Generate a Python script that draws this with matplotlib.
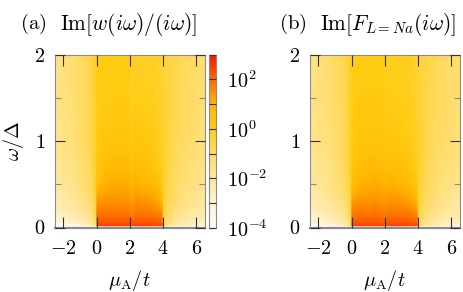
import numpy as np
import matplotlib
matplotlib.use("Agg")
import matplotlib.pyplot as plt
from matplotlib.colors import LinearSegmentedColormap, LogNorm

plt.rcParams['mathtext.fontset'] = 'cm'
plt.rcParams['font.family'] = 'serif'
plt.rcParams['font.serif'] = ['cmr10', 'DejaVu Serif']
plt.rcParams['axes.formatter.use_mathtext'] = True

mu = [-2.5, -2, -1.5, -1, -0.5, -0.2, -0.03, 0.03, 0.5, 1, 1.5, 1.97, 2.03, 2.4, 2.8, 3.2, 3.6, 3.95, 4.05, 4.5, 5, 5.5, 6, 6.5]
omega = [0.02, 0.06, 0.12, 0.2, 0.3, 0.4, 0.5, 0.65, 0.8, 1.0, 1.5, 2.0]

# log10 of the plotted quantity, rows follow omega, columns follow mu
log_a = [
    [-3.9, -3.7, -3.4, -3.1, -2.7, -2.1, -1.3, 2.5, 2.5, 2.5, 2.5, 2.5, 2.35, 2.5, 2.5, 2.5, 2.45, 2.4, -1.0, -2.0, -2.4, -2.7, -3.0, -3.2],
    [-3.3, -3.1, -2.8, -2.5, -2.1, -1.6, -0.9, 2.2, 2.25, 2.25, 2.25, 2.25, 2.05, 2.25, 2.25, 2.25, 2.2, 2.1, -0.9, -1.7, -2.0, -2.3, -2.5, -2.7],
    [-2.9, -2.7, -2.4, -2.1, -1.8, -1.3, -0.7, 1.95, 2.0, 2.0, 2.0, 2.0, 1.8, 2.0, 2.0, 1.95, 1.9, 1.8, -0.7, -1.4, -1.8, -2.0, -2.2, -2.4],
    [-2.6, -2.4, -2.2, -1.9, -1.6, -1.1, -0.5, 1.7, 1.75, 1.75, 1.75, 1.75, 1.55, 1.75, 1.7, 1.7, 1.6, 1.4, -0.6, -1.2, -1.6, -1.8, -2.0, -2.2],
    [-2.4, -2.2, -2.0, -1.7, -1.4, -0.9, -0.4, 1.4, 1.5, 1.5, 1.5, 1.5, 1.3, 1.5, 1.45, 1.4, 1.3, 1.0, -0.5, -1.0, -1.4, -1.6, -1.8, -2.0],
    [-2.2, -2.0, -1.8, -1.5, -1.2, -0.8, -0.35, 1.05, 1.25, 1.3, 1.3, 1.3, 1.1, 1.3, 1.2, 1.15, 1.05, 0.6, -0.45, -0.9, -1.3, -1.5, -1.65, -1.85],
    [-2.0, -1.85, -1.7, -1.45, -1.1, -0.7, -0.3, 0.7, 1.05, 1.15, 1.15, 1.15, 0.95, 1.1, 1.0, 0.95, 0.75, 0.2, -0.4, -0.85, -1.2, -1.4, -1.55, -1.75],
    [-1.9, -1.75, -1.6, -1.35, -1.0, -0.65, -0.25, 0.4, 0.8, 0.9, 0.9, 0.9, 0.7, 0.85, 0.75, 0.65, 0.4, -0.05, -0.35, -0.8, -1.1, -1.3, -1.45, -1.6],
    [-1.8, -1.65, -1.5, -1.25, -0.95, -0.6, -0.2, 0.2, 0.55, 0.65, 0.65, 0.65, 0.45, 0.6, 0.5, 0.4, 0.2, -0.2, -0.35, -0.75, -1.05, -1.2, -1.35, -1.5],
    [-1.7, -1.55, -1.4, -1.2, -0.9, -0.55, -0.2, 0.1, 0.3, 0.35, 0.35, 0.35, 0.15, 0.3, 0.25, 0.15, 0.05, -0.3, -0.35, -0.7, -0.95, -1.1, -1.25, -1.4],
    [-1.6, -1.45, -1.3, -1.1, -0.85, -0.5, -0.2, 0.0, 0.1, 0.1, 0.1, 0.1, -0.15, -0.05, -0.1, -0.1, -0.2, -0.35, -0.4, -0.65, -0.85, -1.0, -1.15, -1.3],
    [-1.55, -1.4, -1.25, -1.05, -0.8, -0.5, -0.2, -0.02, 0.0, 0.0, 0.0, 0.0, -0.25, -0.2, -0.25, -0.2, -0.25, -0.4, -0.45, -0.65, -0.8, -0.95, -1.1, -1.25],
]
log_b = [
    [-3.9, -3.7, -3.4, -3.1, -2.7, -2.1, -1.3, 2.5, 2.5, 2.45, 2.5, 2.4, 2.4, 2.45, 2.5, 2.5, 2.45, 2.4, -1.0, -2.0, -2.4, -2.7, -3.0, -3.2],
    [-3.3, -3.1, -2.8, -2.5, -2.1, -1.6, -0.9, 2.2, 2.25, 2.2, 2.25, 2.15, 2.15, 2.2, 2.25, 2.25, 2.2, 2.1, -0.9, -1.7, -2.0, -2.3, -2.5, -2.7],
    [-2.9, -2.7, -2.4, -2.1, -1.8, -1.3, -0.7, 1.9, 2.0, 1.95, 2.0, 1.9, 1.9, 1.95, 2.0, 1.95, 1.9, 1.8, -0.7, -1.4, -1.8, -2.0, -2.2, -2.4],
    [-2.6, -2.4, -2.2, -1.9, -1.6, -1.1, -0.5, 1.65, 1.75, 1.7, 1.75, 1.65, 1.65, 1.7, 1.7, 1.7, 1.6, 1.4, -0.6, -1.2, -1.6, -1.8, -2.0, -2.2],
    [-2.4, -2.2, -2.0, -1.7, -1.4, -0.9, -0.4, 1.35, 1.5, 1.45, 1.5, 1.4, 1.4, 1.45, 1.45, 1.4, 1.3, 1.0, -0.5, -1.0, -1.4, -1.6, -1.8, -2.0],
    [-2.2, -2.0, -1.8, -1.5, -1.2, -0.8, -0.35, 1.0, 1.25, 1.25, 1.3, 1.2, 1.2, 1.25, 1.2, 1.15, 1.05, 0.6, -0.45, -0.9, -1.3, -1.5, -1.65, -1.85],
    [-2.0, -1.85, -1.7, -1.45, -1.1, -0.7, -0.3, 0.7, 1.05, 1.1, 1.15, 1.05, 1.05, 1.1, 1.0, 0.95, 0.75, 0.2, -0.4, -0.85, -1.2, -1.4, -1.55, -1.75],
    [-1.9, -1.75, -1.6, -1.35, -1.0, -0.65, -0.25, 0.4, 0.8, 0.85, 0.9, 0.8, 0.8, 0.85, 0.75, 0.65, 0.4, -0.05, -0.35, -0.8, -1.1, -1.3, -1.45, -1.6],
    [-1.8, -1.65, -1.5, -1.25, -0.95, -0.6, -0.2, 0.2, 0.6, 0.65, 0.65, 0.6, 0.6, 0.6, 0.5, 0.4, 0.2, -0.2, -0.35, -0.75, -1.05, -1.2, -1.35, -1.5],
    [-1.7, -1.55, -1.4, -1.2, -0.9, -0.55, -0.2, 0.1, 0.35, 0.35, 0.35, 0.3, 0.25, 0.3, 0.25, 0.15, 0.05, -0.3, -0.35, -0.7, -0.95, -1.1, -1.25, -1.4],
    [-1.6, -1.45, -1.3, -1.1, -0.85, -0.5, -0.2, 0.0, 0.15, 0.15, 0.15, 0.1, -0.05, 0.0, -0.05, -0.05, -0.15, -0.35, -0.4, -0.65, -0.85, -1.0, -1.15, -1.3],
    [-1.55, -1.4, -1.25, -1.05, -0.8, -0.5, -0.2, 0.0, 0.05, 0.05, 0.05, 0.0, -0.15, -0.1, -0.15, -0.1, -0.2, -0.4, -0.45, -0.65, -0.8, -0.95, -1.1, -1.25],
]

x_ticks = [-2, 0, 2, 4, 6]
y_ticks = [0, 1, 2]
y_minor = [0.5, 1.5]
cb_ticks = [1e-4, 1e-3, 1e-2, 1e-1, 1e0, 1e1, 1e2, 1e3]
cb_labels = [r'$10^{-4}$', '', r'$10^{-2}$', '', r'$10^{0}$', '', r'$10^{2}$', '']
title_a = r'$\mathrm{Im}[w(i\omega)/(i\omega)]$'
title_b = r'$\mathrm{Im}[F_{L=Na}(i\omega)]$'

W, H = 463, 292
fig = plt.figure(figsize=(W / 100, H / 100), dpi=100)

def rect(x0, x1, ytop, ybot):
    return [x0 / W, 1 - ybot / H, (x1 - x0) / W, (ybot - ytop) / H]

cmap = LinearSegmentedColormap.from_list('pal', [
    (0, '#ffffff'), (1 / 7, '#fff3d2'), (2 / 7, '#ffe8a0'), (3 / 7, '#ffdb62'),
    (4 / 7, '#ffcc14'), (5 / 7, '#ffb800'), (6 / 7, '#fb6a00'), (1, '#ff1000')])
norm = LogNorm(1e-4, 1e3)
GRAY = '#8a8a8a'
DARK = '#333333'
FS = 14.5

def panel(r, data, ylabel):
    ax = fig.add_axes(r)
    m = ax.pcolormesh(mu, omega, 10.0 ** np.array(data), cmap=cmap, norm=norm, shading='gouraud', zorder=0.5)
    ax.set_axisbelow(False)
    ax.set_xlim(-2.5, 6.5)
    ax.set_ylim(0, 2)
    ax.set_xticks(x_ticks, [f'${v}$' for v in x_ticks])
    ax.set_yticks(y_ticks, [f'${v}$' for v in y_ticks])
    ax.set_yticks(y_minor, minor=True)
    ax.tick_params(which='major', direction='in', top=True, right=True, width=0.8, color=DARK, labelsize=FS)
    ax.tick_params(axis='x', which='major', length=8, pad=9)
    ax.tick_params(axis='y', which='major', length=7, pad=7)
    ax.tick_params(axis='y', which='minor', direction='in', left=True, right=True, length=4, width=0.8, color=GRAY)
    for s in ax.spines.values():
        s.set_color(GRAY)
        s.set_linewidth(0.8)
    ax.spines['bottom'].set_linewidth(1.6)
    ax.set_xlabel(r'$\mu_{\mathrm{A}}/t$', fontsize=FS, labelpad=7)
    if ylabel:
        ax.set_ylabel(r'$\omega/\Delta$', fontsize=FS, labelpad=6)
    return ax, m

ax_a, m_a = panel(rect(55, 204.5, 54.5, 227.5), log_a, True)
ax_b, m_b = panel(rect(310, 459.5, 54.5, 227.5), log_b, False)

cax = fig.add_axes(rect(208.5, 216, 54.5, 228))
cb = fig.colorbar(m_a, cax=cax)
cb.solids.set_zorder(0.1)
cb.set_ticks(cb_ticks)
cb.set_ticklabels(cb_labels)
cb.minorticks_off()
cax.set_axisbelow(False)
cax.tick_params(which='major', direction='in', length=5.4, width=0.8, color=DARK, labelsize=FS, pad=8)
cb.outline.set_edgecolor(GRAY)
cb.outline.set_linewidth(0.8)

fig.text(20 / W, 1 - 24 / H, r'$\mathrm{(a)}$', fontsize=15, va='center', ha='left')
fig.text(60 / W, 1 - 24 / H, title_a, fontsize=15.4, va='center', ha='left')
fig.text(279 / W, 1 - 24 / H, r'$\mathrm{(b)}$', fontsize=15, va='center', ha='left')
fig.text(320 / W, 1 - 24 / H, title_b, fontsize=15.4, va='center', ha='left')

fig.savefig('out.png', dpi=100)
